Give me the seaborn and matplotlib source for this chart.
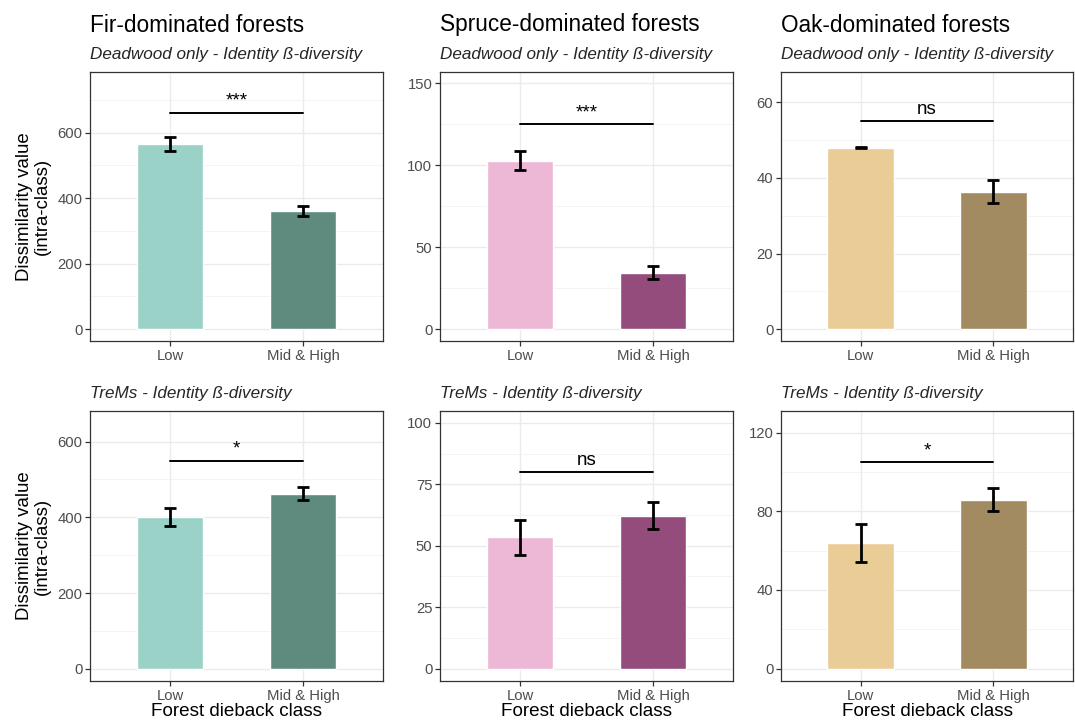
import pandas as pd
import matplotlib
matplotlib.use("Agg")
import matplotlib.pyplot as plt
from matplotlib.ticker import FixedLocator
import seaborn as sns

# categories and labels
classes = ["Low", "Mid & High"]
forest_titles = ["Fir-dominated forests", "Spruce-dominated forests", "Oak-dominated forests"]
row_subtitles = ["Deadwood only - Identity ß-diversity", "TreMs - Identity ß-diversity"]

# mean dissimilarity and error half-width, one pair per forest type (Low, Mid & High)
deadwood_mean = [[566, 362], [103, 34.5], [48.0, 36.4]]
deadwood_err = [[22, 15], [6, 4], [0.2, 3]]
trems_mean = [[401, 462], [53.5, 62.3], [63.9, 85.9]]
trems_err = [[23, 17.5], [7.1, 5.5], [9.8, 5.7]]

# significance labels and bracket heights
deadwood_sig = ["***", "***", "ns"]
deadwood_bracket = [661, 125, 55]
trems_sig = ["*", "ns", "*"]
trems_bracket = [550, 80, 105]

# axis settings
deadwood_ylim = [(-36, 785), (-7.1, 157), (-3.1, 68)]
trems_ylim = [(-32.5, 681), (-5, 104.8), (-6.3, 131)]
deadwood_ticks = [[0, 200, 400, 600], [0, 50, 100, 150], [0, 20, 40, 60]]
trems_ticks = [[0, 200, 400, 600], [0, 25, 50, 75, 100], [0, 40, 80, 120]]

palettes = [["#9AD2C7", "#5F8B7F"], ["#ECB8D5", "#944C7D"], ["#EACD96", "#A38B61"]]

sns.set_theme(style="white")
plt.rcParams["font.family"] = ["Liberation Sans", "DejaVu Sans"]
plt.rcParams["text.color"] = "black"
plt.rcParams["axes.labelcolor"] = "black"

W, H = 1075, 725
fig = plt.figure(figsize=(W / 100, H / 100), dpi=100)


def box(l, t, r, b):
    return [l / W, 1 - b / H, (r - l) / W, (b - t) / H]


cols = [(90, 383), (440, 733), (781, 1073)]
rows = [(72, 341), (411, 681)]

row_data = [
    (deadwood_mean, deadwood_err, deadwood_sig, deadwood_bracket, deadwood_ylim, deadwood_ticks),
    (trems_mean, trems_err, trems_sig, trems_bracket, trems_ylim, trems_ticks),
]

for r, (means, errs, sigs, brackets, ylims, ticks) in enumerate(row_data):
    t, b = rows[r]
    for c, (l, rt) in enumerate(cols):
        ax = fig.add_axes(box(l, t, rt, b))
        df = pd.DataFrame({"class": classes, "value": means[c]})
        sns.barplot(data=df, x="class", y="value", hue="class", palette=palettes[c],
                    width=0.5, errorbar=None, legend=False, saturation=1, ax=ax, zorder=2)
        ax.errorbar([0, 1], means[c], yerr=errs[c], fmt="none", ecolor="black",
                    elinewidth=2.0, capsize=4.6, capthick=2.0, zorder=3)
        ax.plot([0, 1], [brackets[c]] * 2, color="black", lw=1.4, zorder=3)
        ax.annotate(sigs[c], (0.5, brackets[c]), xytext=(0, 5), textcoords="offset points",
                    ha="center", va="baseline", fontsize=13.5, color="black")

        ax.set_xlim(-0.6, 1.6)
        ax.set_ylim(*ylims[c])
        ax.set_yticks(ticks[c])
        step = ticks[c][1] - ticks[c][0]
        minors = [v + step / 2 for v in ticks[c]] + [ticks[c][0] - step / 2]
        ax.yaxis.set_minor_locator(FixedLocator(minors))
        ax.grid(True, which="major", color="#EBEBEB", lw=1.0, zorder=0)
        ax.grid(True, which="minor", axis="y", color="#F2F2F2", lw=0.6, zorder=0)
        ax.set_axisbelow(True)
        for s in ax.spines.values():
            s.set_color("#333333")
            s.set_linewidth(0.9)
        ax.tick_params(axis="both", which="major", length=3.5, width=0.9, color="#333333",
                       labelsize=10.7, labelcolor="#4D4D4D", pad=2, left=True, bottom=True)
        ax.tick_params(axis="y", which="minor", length=0)

        ax.set_xlabel("Forest dieback class" if r == 1 else "", fontsize=13.6, labelpad=0)
        ax.set_ylabel("Dissimilarity value\n(intra-class)" if c == 0 else "", fontsize=13.4,
                      labelpad=5, linespacing=1.05)

        if r == 0:
            fig.text(l / W, 1 - 31.5 / H, forest_titles[c], fontsize=16.3, va="baseline", ha="left")
            fig.text(l / W, 1 - 59.5 / H, row_subtitles[0], fontsize=12.3, style="italic",
                     color="#262626", va="baseline", ha="left")
        else:
            fig.text(l / W, 1 - 398 / H, row_subtitles[1], fontsize=12.3, style="italic",
                     color="#262626", va="baseline", ha="left")

fig.savefig("out.png", dpi=100, facecolor="white")
